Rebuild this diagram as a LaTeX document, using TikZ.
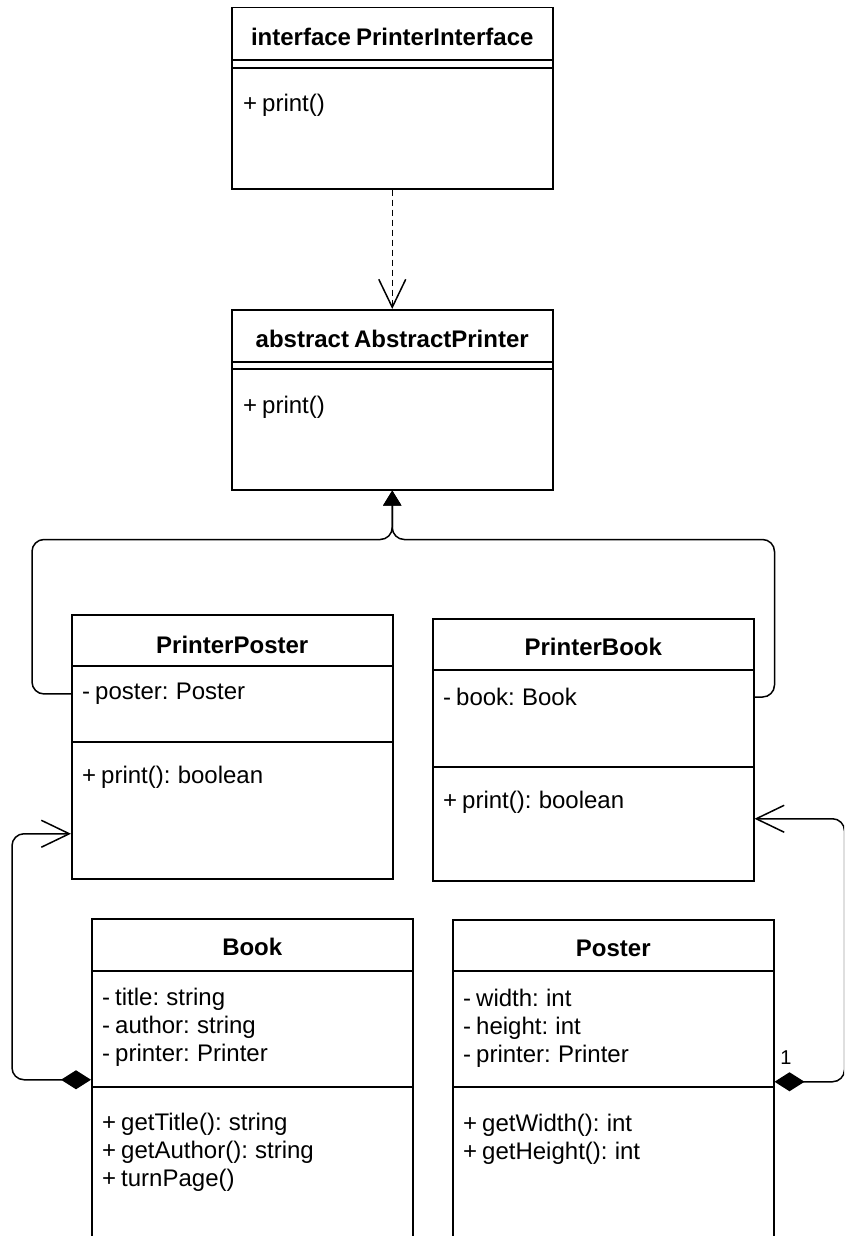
\documentclass[tikz,border=0pt]{standalone}
\usepackage{fontspec}
\setmainfont{Liberation Sans}[WordSpace=0.75]
\usetikzlibrary{arrows.meta,positioning}

\begin{document}
\begin{tikzpicture}[x=1pt, y=-1pt,
  cls/.style={draw, line width=1.5pt, minimum width=321pt, anchor=north west, inner sep=0pt},
  ttl/.style={font=\bfseries\fontsize{24}{28}\selectfont, inner sep=0pt},
  mbr/.style={font=\fontsize{24}{28}\selectfont, align=left, anchor=north west, inner sep=0pt},
  mult/.style={font=\fontsize{20}{22}\selectfont, inner sep=0pt, anchor=south west, xshift=5pt, yshift=17pt},
  conn/.style={line width=1.5pt, rounded corners=12pt},
  dep/.style={conn, dash pattern=on 6pt off 4pt, -{Straight Barb[length=28pt,width=27pt]}},
  gen/.style={conn, -{Triangle[length=15pt,width=18pt]}},
  asc/.style={conn, {Diamond[length=30pt,width=19pt]}-{Straight Barb[length=28pt,width=27pt]}}]
\useasboundingbox (0,0) rectangle (844,1236);
\clip (0,0) rectangle (844,1236);

% class boxes
\node[cls, minimum height=181pt] (pi) at (231,7) {};
\node[cls, minimum height=180pt] (ap) at (231,309) {};
\node[cls, minimum height=264pt] (pp) at (71,614) {};
\node[cls, minimum height=262pt] (pb) at (432,618) {};
\node[cls, minimum height=332pt] (bk) at (91,918) {};
\node[cls, minimum height=332pt] (po) at (452,919) {};
\foreach \n/\d in {pi/53,pi/61,ap/53,ap/60,pp/52,pp/128,pb/52,pb/149,bk/53,bk/169,po/52,po/168}
  {\draw[line width=1.5pt] ([yshift=-\d pt]\n.north west) -- ([yshift=-\d pt]\n.north east);}

% titles
\node[ttl] (pit) at ([yshift=-30pt]pi.north) {interface PrinterInterface};
\node[ttl] (apt) at ([yshift=-30pt]ap.north) {abstract AbstractPrinter};
\node[ttl] (ppt) at ([yshift=-31pt]pp.north) {PrinterPoster};
\node[ttl] (pbt) at ([yshift=-29pt]pb.north) {PrinterBook};
\node[ttl] (bkt) at ([yshift=-29pt]bk.north) {Book};
\node[ttl] (pot) at ([yshift=-29pt]po.north) {Poster};

% members
\node[mbr] (pim) at ([xshift=12pt,yshift=-87pt]pi.north west) {+ print()};
\node[mbr] (apm) at ([xshift=12pt,yshift=-87pt]ap.north west) {+ print()};
\node[mbr] (ppa) at ([xshift=11pt,yshift=-69pt]pp.north west) {- poster: Poster};
\node[mbr] (ppm) at ([xshift=11pt,yshift=-152pt]pp.north west) {+ print(): boolean};
\node[mbr] (pba) at ([xshift=11pt,yshift=-70pt]pb.north west) {- book: Book};
\node[mbr] (pbm) at ([xshift=11pt,yshift=-173pt]pb.north west) {+ print(): boolean};
\node[mbr] (bka) at ([xshift=11pt,yshift=-70pt]bk.north west) {- title: string\\- author: string\\- printer: Printer};
\node[mbr] (bkm) at ([xshift=11pt,yshift=-195pt]bk.north west) {+ getTitle(): string\\+ getAuthor(): string\\+ turnPage()};
\node[mbr] (poa) at ([xshift=11pt,yshift=-70pt]po.north west) {- width: int\\- height: int\\- printer: Printer};
\node[mbr] (pom) at ([xshift=11pt,yshift=-195pt]po.north west) {+ getWidth(): int\\+ getHeight(): int};

% relations
\coordinate (gj) at ([yshift=-49pt]ap.south);
\draw[dep] (pi) -- (ap);
\draw[gen] (pp.west |- ppa) -- ++(-39,0) |- (gj) -- (ap.south);
\draw[gen] (pb.east |- pba) -- ++(20,0) |- (gj) -- (ap.south);
\draw[asc] ([yshift=5pt]bk.west) -- ++(-79,0) |- ([yshift=-87pt]pp.west);
\draw[asc] ([yshift=4pt]po.east) node[mult] {1} -- ++(70,0) |- ([yshift=-69pt]pb.east);
\end{tikzpicture}
\end{document}
